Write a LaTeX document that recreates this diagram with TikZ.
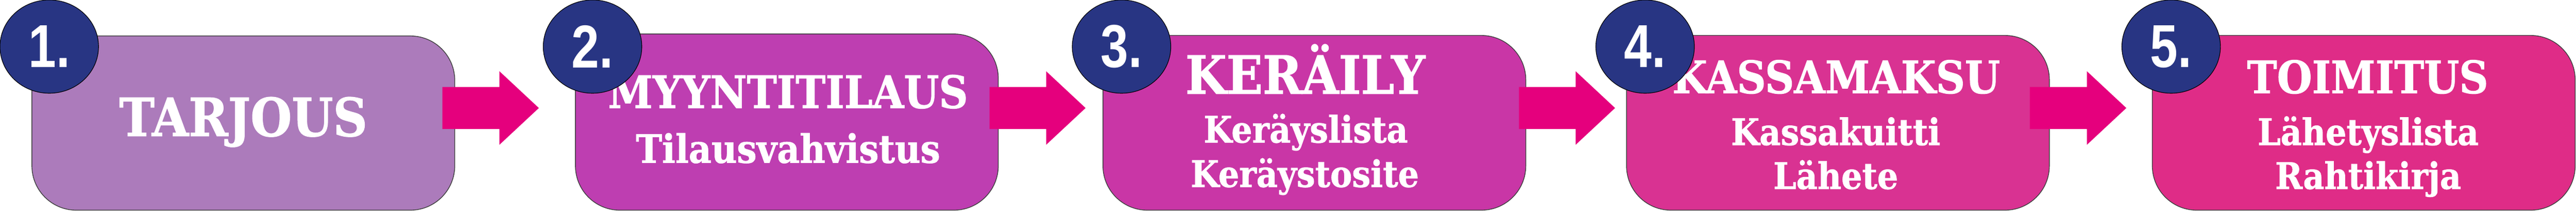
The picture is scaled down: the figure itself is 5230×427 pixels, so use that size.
\documentclass[tikz,border=0pt]{standalone}
\usepackage{fontspec}
\usetikzlibrary{calc,shapes.geometric}
\newfontfamily\slabfont[FakeStretch=0.9,FakeBold=1.2]{DejaVu Serif}
\newfontfamily\numfont[FakeStretch=0.82]{Liberation Sans}
\definecolor{badgeblue}{HTML}{283583}
\definecolor{boxA}{HTML}{AC7BBB}
\definecolor{boxB}{HTML}{BE3EB1}
\definecolor{boxC}{HTML}{C936A6}
\definecolor{boxD}{HTML}{D93292}
\definecolor{boxE}{HTML}{DF2C87}
\definecolor{arrowpink}{HTML}{E5007D}
\newcommand\blockarr[2]{%
  \fill[arrowpink] ($(#1)+(0,-42.5)$) -- ($(#2)+(-80,-42.5)$) -- ($(#2)+(-80,-74.5)$)
   -- (#2) -- ($(#2)+(-80,74.5)$) -- ($(#2)+(-80,42.5)$) -- ($(#1)+(0,42.5)$) -- cycle;}
\begin{document}
\begin{tikzpicture}[x=0.01cm,y=-0.01cm,
  stepbox/.style={draw=black!75, line width=0.015cm, rounded corners=0.9cm,
    minimum width=8.58cm, inner sep=0pt},
  badge/.style={ellipse, draw=black, line width=0.012cm, fill=badgeblue,
    minimum width=2cm, minimum height=1.89cm, inner sep=0pt, text=white,
    font=\numfont\bfseries\fontsize{35pt}{35pt}\selectfont},
  bigtxt/.style={text=white, anchor=base, inner sep=0pt,
    font=\slabfont\bfseries\fontsize{30.4pt}{30pt}\selectfont},
  midtxt/.style={text=white, anchor=base, inner sep=0pt,
    font=\slabfont\bfseries\fontsize{25.8pt}{26pt}\selectfont},
  smalltxt/.style={text=white, anchor=base, inner sep=0pt,
    font=\slabfont\bfseries\fontsize{21pt}{21pt}\selectfont}
]
\useasboundingbox (0,0) rectangle (5230,427);
% boxes
\node[stepbox, fill=boxA, minimum height=3.53cm] (b1) at (494,249.5) {};
\node[stepbox, fill=boxB, minimum height=3.57cm] (b2) at (1597.5,247.5) {};
\node[stepbox, fill=boxC, minimum height=3.54cm] (b3) at (2668.5,249) {};
\node[stepbox, fill=boxD, minimum height=3.54cm] (b4) at (3731.5,249) {};
\node[stepbox, fill=boxE, minimum height=3.54cm] (b5) at (4799,249) {};
% arrows
\coordinate (a1s) at (898,219);  \coordinate (a1e) at (1094,219);
\coordinate (a2s) at (2009,219); \coordinate (a2e) at (2204,219);
\coordinate (a3s) at (3084,219); \coordinate (a3e) at (3279,219);
\coordinate (a4s) at (4121,219); \coordinate (a4e) at (4317,219);
\blockarr{a1s}{a1e}
\blockarr{a2s}{a2e}
\blockarr{a3s}{a3e}
\blockarr{a4s}{a4e}
% texts
\node[bigtxt] (t1) at (494,276) {TARJOUS};
\node[midtxt] (t2a) at (1600,219) {MYYNTITILAUS};
\node[smalltxt, font=\slabfont\bfseries\fontsize{22.5pt}{22pt}\selectfont] (t2b) at (1600,330) {Tilausvahvistus};
\node[bigtxt] (t3a) at (2650,190) {KERÄILY};
\node[smalltxt] (t3b) at (2651,289) {Keräyslista};
\node[smalltxt] (t3c) at (2649,379) {Keräystosite};
\node[midtxt] (t4a) at (3728,189) {KASSAMAKSU};
\node[smalltxt] (t4b) at (3727,294) {Kassakuitti};
\node[smalltxt] (t4c) at (3727,383) {Lähete};
\node[midtxt] (t5a) at (4807,189) {TOIMITUS};
\node[smalltxt] (t5b) at (4808,294) {Lähetyslista};
\node[smalltxt] (t5c) at (4808,383) {Rahtikirja};
% badges
\node[badge] (n1) at (100,94.5) {1.};
\node[badge] (n2) at (1203,94.5) {2.};
\node[badge] (n3) at (2277,94.5) {3.};
\node[badge] (n4) at (3340,94.5) {4.};
\node[badge] (n5) at (4408,94.5) {5.};
\end{tikzpicture}
\end{document}
